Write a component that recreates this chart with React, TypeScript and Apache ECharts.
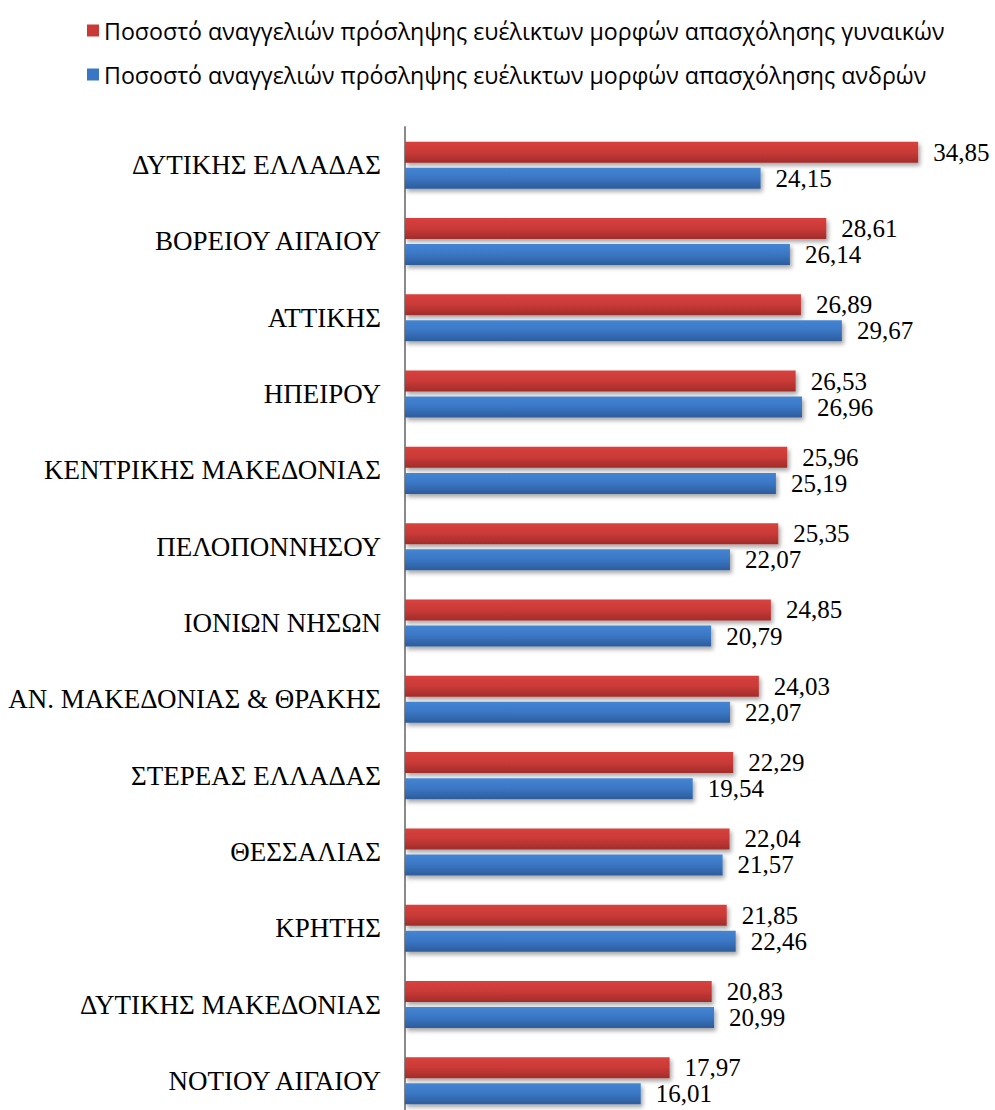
import React, { useEffect, useRef } from "react";
import * as echarts from "echarts";

const categories = [
  "ΔΥΤΙΚΗΣ ΕΛΛΑΔΑΣ",
  "ΒΟΡΕΙΟΥ ΑΙΓΑΙΟΥ",
  "ΑΤΤΙΚΗΣ",
  "ΗΠΕΙΡΟΥ",
  "ΚΕΝΤΡΙΚΗΣ ΜΑΚΕΔΟΝΙΑΣ",
  "ΠΕΛΟΠΟΝΝΗΣΟΥ",
  "ΙΟΝΙΩΝ ΝΗΣΩΝ",
  "ΑΝ. ΜΑΚΕΔΟΝΙΑΣ & ΘΡΑΚΗΣ",
  "ΣΤΕΡΕΑΣ ΕΛΛΑΔΑΣ",
  "ΘΕΣΣΑΛΙΑΣ",
  "ΚΡΗΤΗΣ",
  "ΔΥΤΙΚΗΣ ΜΑΚΕΔΟΝΙΑΣ",
  "ΝΟΤΙΟΥ ΑΙΓΑΙΟΥ",
];

const womenName = "Ποσοστό αναγγελιών πρόσληψης ευέλικτων μορφών απασχόλησης γυναικών";
const menName = "Ποσοστό αναγγελιών πρόσληψης ευέλικτων μορφών απασχόλησης ανδρών";

const women = [34.85, 28.61, 26.89, 26.53, 25.96, 25.35, 24.85, 24.03, 22.29, 22.04, 21.85, 20.83, 17.97];
const men = [24.15, 26.14, 29.67, 26.96, 25.19, 22.07, 20.79, 22.07, 19.54, 21.57, 22.46, 20.99, 16.01];

const fmt = (v: number) => v.toFixed(2).replace(".", ",");

export default function App() {
  const ref = useRef<HTMLDivElement>(null);
  useEffect(() => {
    if (!ref.current) return;
    const chart = echarts.init(ref.current, null, { renderer: "svg" });
    const redGrad = new echarts.graphic.LinearGradient(0, 0, 0, 1, [
      { offset: 0, color: "#d8413d" },
      { offset: 0.5, color: "#c93a37" },
      { offset: 1, color: "#a12c2a" },
    ]);
    const blueGrad = new echarts.graphic.LinearGradient(0, 0, 0, 1, [
      { offset: 0, color: "#4485d4" },
      { offset: 0.5, color: "#3a76c3" },
      { offset: 1, color: "#2c5c9b" },
    ]);
    const label = {
      show: true,
      position: "right" as const,
      distance: 15,
      fontFamily: "Liberation Serif",
      fontSize: 25,
      color: "#000",
      formatter: (p: any) => fmt(p.value),
    };
    const shadow = {
      shadowColor: "rgba(0,0,0,0.35)",
      shadowBlur: 4,
      shadowOffsetX: 2,
      shadowOffsetY: 3,
    };
    chart.setOption({
      animation: false,
      legend: {
        orient: "vertical",
        left: 82,
        top: 14,
        itemGap: 21,
        itemWidth: 12,
        itemHeight: 12,
        icon: "rect",
        textStyle: { fontFamily: "Open Sans", fontSize: 23.2, color: "#000" },
        data: [
          { name: womenName, itemStyle: { color: "#c93a37" } },
          { name: menName, itemStyle: { color: "#3a76c3" } },
        ],
      },
      grid: { left: 405, top: 127, width: 589, height: 992 },
      xAxis: {
        type: "value",
        min: 0,
        max: 40,
        show: false,
        splitLine: { show: false },
      },
      yAxis: {
        type: "category",
        data: categories,
        inverse: true,
        axisLine: { show: true, lineStyle: { color: "#8a8a8a", width: 2 } },
        axisTick: { show: false },
        axisLabel: {
          margin: 24,
          fontFamily: "Liberation Serif",
          fontSize: 27,
          color: "#000",
        },
      },
      series: [
        {
          name: womenName,
          type: "bar",
          data: women,
          barWidth: 21,
          barGap: "24%",
          itemStyle: { color: redGrad, ...shadow },
          label,
        },
        {
          name: menName,
          type: "bar",
          data: men,
          barWidth: 21,
          barGap: "24%",
          itemStyle: { color: blueGrad, ...shadow },
          label,
        },
      ],
    });
    return () => chart.dispose();
  }, []);
  return (
    <div
      ref={ref}
      style={{ position: "absolute", left: 0, top: 0, width: 995, height: 1125 }}
    />
  );
}
